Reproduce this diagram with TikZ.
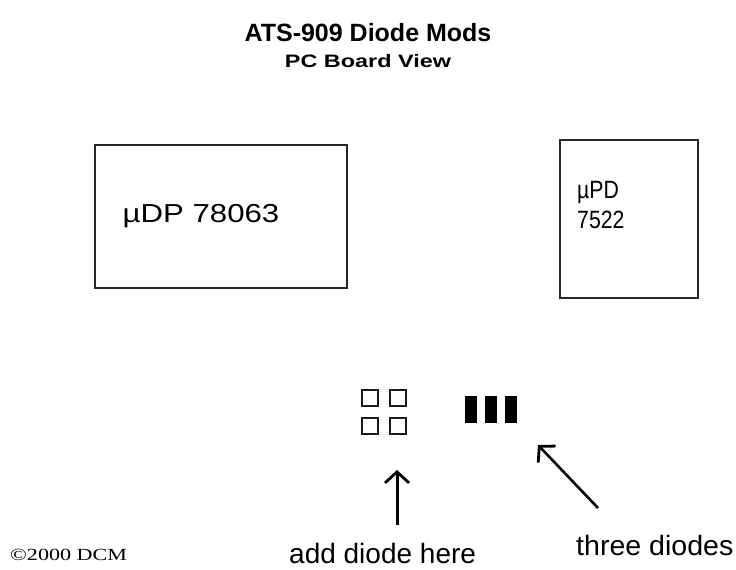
\documentclass[tikz,border=0pt]{standalone}
\usepackage{fontspec}
\setmainfont{Liberation Sans}
\newfontfamily\serifcr{Liberation Serif}
\usetikzlibrary{arrows.meta}
\begin{document}
\begin{tikzpicture}[x=1pt,y=-1pt,
  chip/.style={draw=black!85,line width=1.6pt},
  lbl/.style={inner sep=0pt,font=\fontsize{28}{30}\selectfont},
  pad/.style={draw=black!90,line width=1.4pt,minimum width=16pt,minimum height=16pt,inner sep=0pt},
  bar/.style={fill=black,draw=none,minimum width=12pt,minimum height=27pt,inner sep=0pt},
  pointer/.style={line width=3pt,-{Straight Barb[length=11pt,width=24pt,line width=2.8pt]}}]
\useasboundingbox (0,0) rectangle (736,570);
% titles
\node[inner sep=0pt,anchor=base,font=\fontsize{25}{27}\selectfont\bfseries] (title) at (368,41) {ATS-909 Diode Mods};
\node[inner sep=0pt,anchor=base,font=\fontsize{18}{20}\selectfont\bfseries] (sub) at (368,67) {\scalebox{1.3}[1]{PC Board View}};
% chips
\draw[chip] (95,145) rectangle (347,288);
\node[inner sep=0pt,anchor=base,font=\fontsize{26}{28}\selectfont] (c1) at (201,222) {\scalebox{1.2}[1]{µDP 78063}};
\draw[chip] (560,140) rectangle (698,298);
\node[inner sep=0pt,anchor=base west,font=\fontsize{25}{27}\selectfont] (c2a) at (577,198) {\scalebox{0.85}[1]{µPD}};
\node[inner sep=0pt,anchor=base west,font=\fontsize{25}{27}\selectfont] (c2b) at (577,228) {\scalebox{0.85}[1]{7522}};
% diode pads
\node[pad] (p1) at (370,398) {};
\node[pad] (p2) at (398,398) {};
\node[pad] (p3) at (370,426) {};
\node[pad] (p4) at (398,426) {};
% three diodes
\node[bar] (d1) at (471,409.5) {};
\node[bar] (d2) at (491,409.5) {};
\node[bar] (d3) at (511,409.5) {};
% arrows
\coordinate (a1s) at (397,525);
\coordinate (a1e) at (397,470);
\draw[pointer] (a1s) -- (a1e);
\coordinate (a2s) at (598,508);
\coordinate (a2e) at (538,445);
\draw[pointer,line width=2.6pt] (a2s) -- (a2e);
% labels
\node[lbl,anchor=base west] (add) at (289,563) {add diode here};
\node[lbl,anchor=base west] (three) at (576,555) {\scalebox{1.02}[1]{three diodes}};
\node[inner sep=0pt,anchor=base west,font=\serifcr\fontsize{17}{18}\selectfont] (copy) at (10,560) {\scalebox{1.3}[1]{©2000 DCM}};
\end{tikzpicture}
\end{document}
